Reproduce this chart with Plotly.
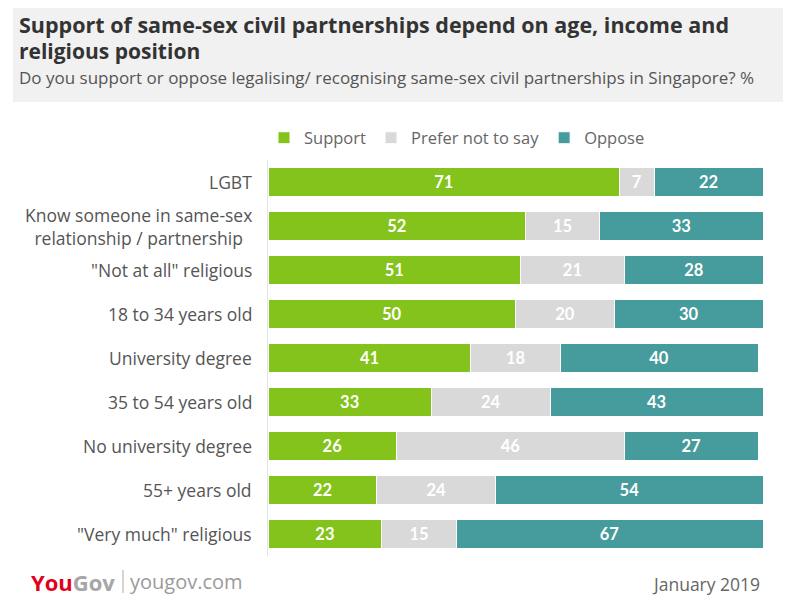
import plotly.graph_objects as go

categories = [
    "LGBT",
    "Know someone in same-sex<br>relationship / partnership",
    "\"Not at all\" religious",
    "18 to 34 years old",
    "University degree",
    "35 to 54 years old",
    "No university degree",
    "55+ years old",
    "\"Very much\" religious",
]
support = [71, 52, 51, 50, 41, 33, 26, 22, 23]
prefer_not = [7, 15, 21, 20, 18, 24, 46, 24, 15]
oppose_labels = [22, 33, 28, 30, 40, 43, 27, 54, 67]
# bar lengths as drawn in the picture (last bar is drawn at ~62 although labelled 67)
oppose = [22, 33, 28, 30, 40, 43, 27, 54, 62]

series = [
    ("Support", support, support, "#84c31b"),
    ("Prefer not to say", prefer_not, prefer_not, "#d9d9d9"),
    ("Oppose", oppose, oppose_labels, "#469b9d"),
]

OFF = 8  # page body margin
W, H = 800 - OFF, 604 - OFF
# plot area in reference-picture pixels
L, R, T, B = 268, 763, 160, 556


def px(x):
    return (x - L) / (R - L)


def py(y):
    return (B - y) / (B - T)


FONT = "Open Sans"
fig = go.Figure()
for name, vals, labels, color in series:
    fig.add_trace(go.Bar(
        y=categories, x=vals, name=name, orientation="h",
        marker=dict(color=color, line=dict(color="white", width=1)),
        text=[str(v) for v in labels], textposition="inside",
        insidetextanchor="middle",
        textfont=dict(color="white", size=16.5, family="Lato", weight="bold"),
        width=0.64, hoverinfo="skip",
    ))

fig.update_layout(
    width=W, height=H, barmode="stack",
    margin=dict(l=L - OFF, r=800 - R, t=T - OFF, b=604 - B, pad=0, autoexpand=False),
    plot_bgcolor="white", paper_bgcolor="white",
    font=dict(family=FONT, color="#555555"),
    showlegend=True,
    legend=dict(orientation="h", x=px(264), xanchor="left", y=py(138), yanchor="middle",
                font=dict(size=16.5, color="#666666", family=FONT),
                traceorder="normal", itemwidth=30),
    xaxis=dict(range=[0, 100], visible=False, fixedrange=True),
    yaxis=dict(autorange="reversed", showgrid=False, showline=True, linecolor="#e3e3e3",
               linewidth=1, ticks="", showticklabels=False),
)

shapes = [
    dict(type="rect", xref="paper", yref="paper", x0=px(13), x1=px(783), y0=py(102), y1=py(8),
         fillcolor="#f1f1f1", line=dict(width=0), layer="below"),
    dict(type="line", xref="paper", yref="paper", x0=px(123), x1=px(123), y0=py(593), y1=py(570),
         line=dict(color="#aaaaaa", width=1)),
]
fig.update_layout(shapes=shapes)

anns = [
    dict(text="<b>Support of same-sex civil partnerships depend on age, income and</b>",
         x=px(17), y=py(24), xanchor="left", yanchor="middle", align="left",
         font=dict(size=21.5, color="#333333", family=FONT)),
    dict(text="<b>religious position</b>",
         x=px(17), y=py(51), xanchor="left", yanchor="middle", align="left",
         font=dict(size=21, color="#333333", family=FONT)),
    dict(text="Do you support or oppose legalising/ recognising same-sex civil partnerships in Singapore? %",
         x=px(17), y=py(77), xanchor="left", yanchor="middle", align="left",
         font=dict(size=17, color="#555555", family=FONT)),
    dict(text="<b><span style='color:#e2001a'>You</span><span style='color:#a6a6a6'>Gov</span></b>",
         x=px(29), y=py(582), xanchor="left", yanchor="middle",
         font=dict(size=22, family=FONT)),
    dict(text="yougov.com", x=px(128), y=py(581), xanchor="left", yanchor="middle",
         font=dict(size=20, color="#9a9a9a", family=FONT)),
    dict(text="January 2019", x=px(762), y=py(584), xanchor="right", yanchor="middle",
         font=dict(size=17.5, color="#666666", family=FONT)),
]
# category labels, centered multi-line like the reference
for cat in categories:
    anns.append(dict(text=cat, x=px(254), y=cat, yref="y", xanchor="right", yanchor="middle",
                     align="center", font=dict(size=17.5, color="#555555", family=FONT)))
for a in anns:
    a.setdefault("yref", "paper")
    a.update(xref="paper", showarrow=False)
fig.update_layout(annotations=anns)

fig.write_html("out.html")
